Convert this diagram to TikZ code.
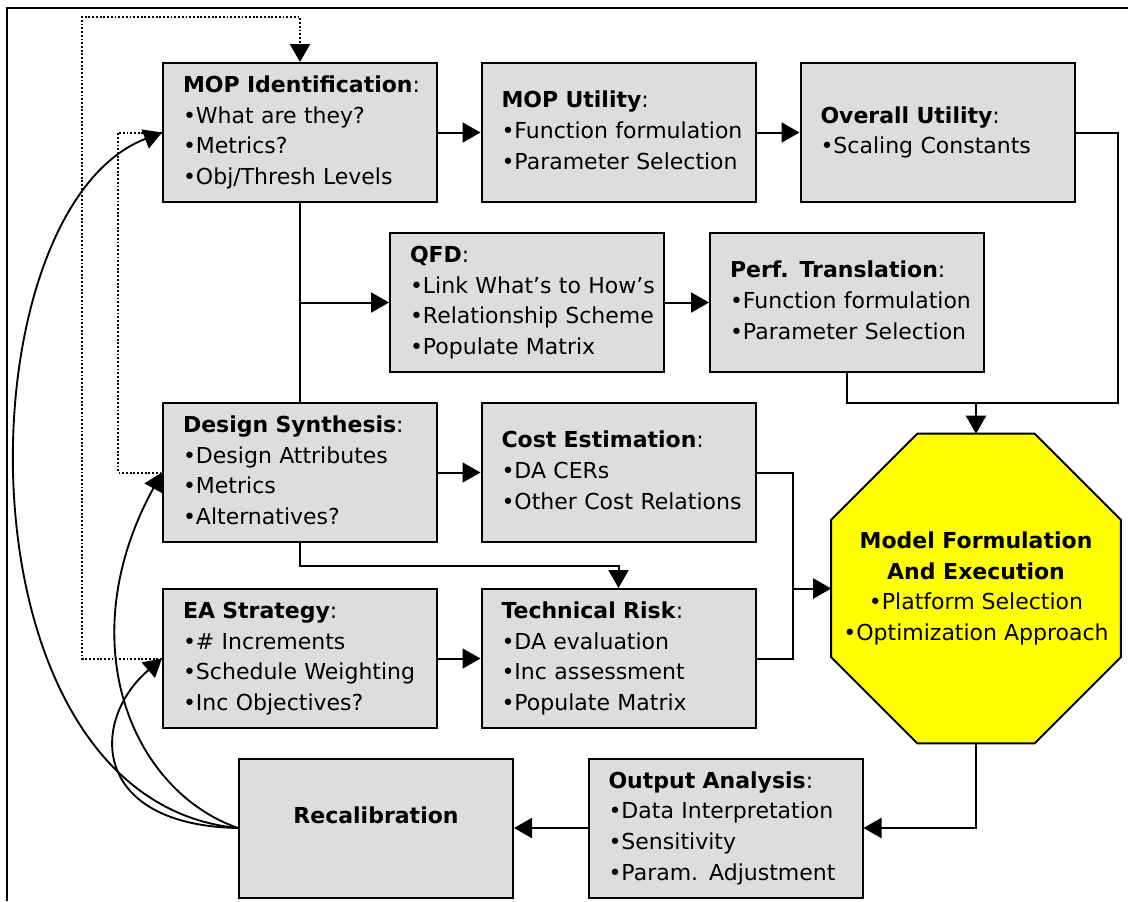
\documentclass[tikz,border=0pt]{standalone}
\usepackage{fontspec}
\setmainfont{DejaVu Sans}
\usetikzlibrary{arrows.meta}

\definecolor{boxgray}{RGB}{221,221,221}
\definecolor{stopyellow}{RGB}{255,255,0}

\newcommand{\boxlines}[1]{\begin{tabular}{@{}l@{}}#1\end{tabular}}

\tikzset{
  stage/.style={draw, line width=1.5pt, fill=boxgray, minimum width=205.5pt,
    minimum height=104.25pt, text width=175.5pt, inner xsep=15pt, inner ysep=0pt, align=left},
  flow/.style={line width=1.5pt, -{Triangle[length=13.5pt,width=15pt]}},
  joint/.style={line width=1.5pt},
  feedback/.style={line width=1.4pt, -{Triangle[length=13.5pt,width=15pt]}},
  trace/.style={line width=1.5pt, dash pattern=on 1.4pt off 1.4pt},
}

\begin{document}
\begin{tikzpicture}[x=0.75pt, y=-0.75pt, font=\fontsize{16.5}{23}\selectfont]
\useasboundingbox (0,0) rectangle (1130,901);

%cornice
\draw[line width=1.5pt] (7,901) -- (7,8) -- (1128,8);

%riga 1
\node[stage] (mopid) at (300,132.5) {\boxlines{\textbf{MOP Identification}:\\•What are they?\\•Metrics?\\•Obj/Thresh Levels}};
\node[stage] (moputil) at (618.5,132.5) {\boxlines{\textbf{MOP Utility}:\\•Function formulation\\•Parameter Selection}};
\node[stage] (overall) at (937.5,132.5) {\boxlines{\textbf{Overall Utility}:\\•Scaling Constants}};

%riga 2
\node[stage] (qfd) at (527,302.5) {\boxlines{\textbf{QFD}:\\•Link What’s to How’s\\•Relationship Scheme\\•Populate Matrix}};
\node[stage] (perf) at (847,302.5) {\boxlines{\textbf{Perf. Translation}:\\•Function formulation\\•Parameter Selection}};

%riga 3 e 4
\node[stage] (synth) at (300,472.5) {\boxlines{\textbf{Design Synthesis}:\\•Design Attributes\\•Metrics\\•Alternatives?}};
\node[stage] (cost) at (618.5,472.5) {\boxlines{\textbf{Cost Estimation}:\\•DA CERs\\•Other Cost Relations}};
\node[stage] (strat) at (300,658.5) {\boxlines{\textbf{EA Strategy}:\\•\# Increments\\•Schedule Weighting\\•Inc Objectives?}};
\node[stage] (risk) at (618.5,658.5) {\boxlines{\textbf{Technical Risk}:\\•DA evaluation\\•Inc assessment\\•Populate Matrix}};

%riga 5
\node[stage, align=center] (recal) at (376,828) {\textbf{Recalibration}\\[-10.5pt] \strut};
\node[stage] (output) at (725.5,828) {\boxlines{\textbf{Output Analysis}:\\•Data Interpretation\\•Sensitivity\\•Param. Adjustment}};

%ottagono
\node[minimum width=216.75pt, minimum height=231.75pt] (model) at (976,588.5) {};
\draw[line width=1.5pt, fill=stopyellow]
  ([xshift=64.5pt]model.north west) -- ([xshift=-64.5pt]model.north east)
  -- ([yshift=-64.5pt]model.north east) -- ([yshift=64.5pt]model.south east)
  -- ([xshift=-64.5pt]model.south east) -- ([xshift=64.5pt]model.south west)
  -- ([yshift=64.5pt]model.south west) -- ([yshift=-64.5pt]model.north west) -- cycle;
\node[align=center] (modeltext) at (model) {\textbf{Model Formulation}\\\textbf{And Execution}\\•Platform Selection\\•Optimization Approach};

%giunzioni
\coordinate (j1) at (1118,403);
\coordinate (j2) at (976,403);
\coordinate (j3) at (793,588.5);
\coordinate (b1) at (300,302.5);
\coordinate (b2) at (618.5,566);
\coordinate (d1) at (82,17);
\coordinate (d3) at (118,300);

%frecce
\draw[flow] (mopid) -- (moputil);
\draw[flow] (moputil) -- (overall);
\draw[joint] (overall.east) -| (j1) -- (j2);
\draw[joint] (perf.south) |- (j2);
\draw[flow] (j2) -- (model.north);

\draw[joint] (mopid.south) -- (synth.north);
\draw[flow] (b1) -- (qfd.west);
\draw[flow] (qfd) -- (perf);

\draw[flow] (synth) -- (cost);
\draw[flow] (synth.south) |- (b2) -- (risk.north);
\draw[flow] (strat) -- (risk);

\draw[joint] (cost.east) -| (j3);
\draw[joint] (risk.east) -| (j3);
\draw[flow] (j3) -- (model.west);

\draw[flow] (model.south) |- (output.east);
\draw[flow] (output) -- (recal);

%ritorni
\draw[trace, -{Triangle[length=13.5pt,width=15pt]}] (strat.west) -| (d1) -| (mopid.north);
\draw[trace] (mopid.west) -| (d3) |- (synth.west);
\draw[feedback] (recal.west) .. controls (-50,800) and (-40,210) .. (mopid.west);
\draw[feedback] (recal.west) .. controls (130,790) and (70,640) .. (synth.west);
\draw[feedback] (recal.west) .. controls (90,825) and (90,720) .. (strat.west);

\end{tikzpicture}
\end{document}
